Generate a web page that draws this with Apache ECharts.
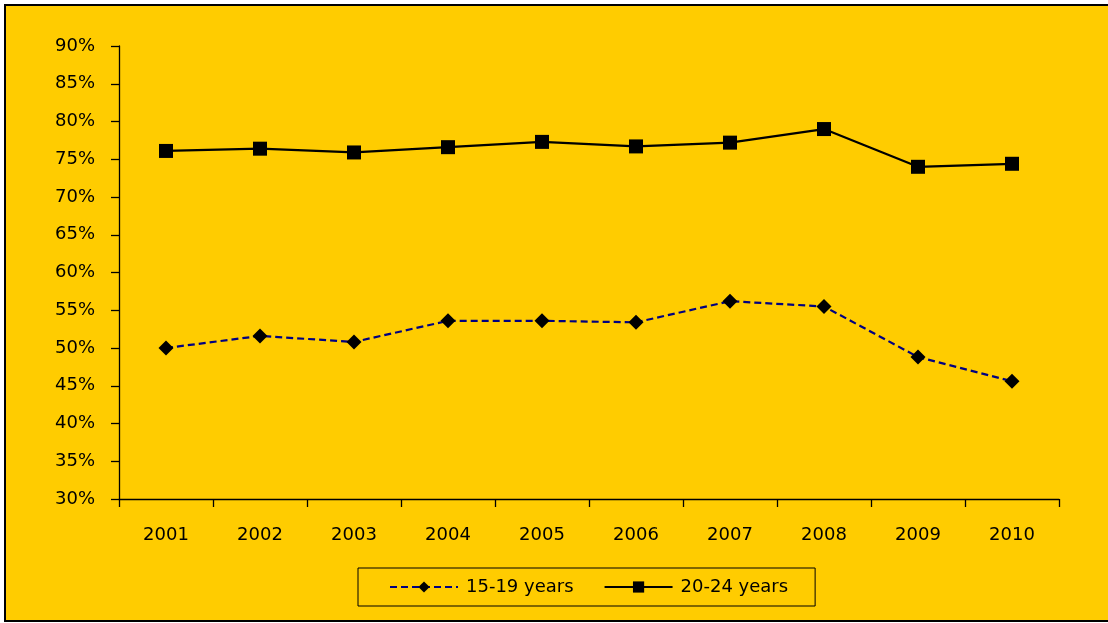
<!DOCTYPE html>
<html>
<head>
<meta charset="utf-8">
<script src="https://cdn.jsdelivr.net/npm/echarts@6/dist/echarts.min.js"></script>
<style>
html, body { margin: 0; padding: 0; background: #fff; overflow: hidden; }
#main { width: 1108px; height: 623px; }
</style>
</head>
<body>
<div id="main"></div>
<script>
// data
var years = ['2001', '2002', '2003', '2004', '2005', '2006', '2007', '2008', '2009', '2010'];
var teens = [50.0, 51.6, 50.8, 53.6, 53.6, 53.4, 56.2, 55.5, 48.8, 45.6];   // 15-19 years
var twenties = [76.1, 76.4, 75.9, 76.6, 77.3, 76.7, 77.2, 79.0, 74.0, 74.4]; // 20-24 years
var seriesNames = ['15-19 years', '20-24 years'];

var myChart = echarts.init(document.getElementById('main'));

var font = 'DejaVu Sans';
var frameLine = { stroke: '#000', lineWidth: 2 };

option = {
	backgroundColor: '#ffffff',
	animation: false,
	textStyle: { fontFamily: font, color: '#000' },
	// yellow panel, framed on top, left and bottom only (it runs off the right edge)
	graphic: [{
		type: 'rect',
		z: -10,
		shape: { x: 5, y: 5, width: 1103, height: 616 },
		style: { fill: '#FFCC00' }
	}, {
		type: 'polyline',
		z: -9,
		shape: { points: [[1108, 5], [5, 5], [5, 621], [1108, 621]] },
		style: frameLine
	}],
	grid: {
		left: 119,
		right: 49,
		top: 46,
		bottom: 124
	},
	legend: {
		left: 358,
		top: 568,
		padding: [10, 27, 10, 31],
		itemWidth: 68,
		itemHeight: 14,
		itemGap: 30,
		borderColor: '#000',
		borderWidth: 1,
		textStyle: { fontFamily: font, fontSize: 18, color: '#000', padding: [0, 0, 0, 3] },
		data: seriesNames
	},
	xAxis: {
		type: 'category',
		data: years,
		boundaryGap: true,
		axisLine: { lineStyle: { color: '#000', width: 1.3 } },
		axisTick: { show: true, length: 8, lineStyle: { color: '#000', width: 1.3 } },
		axisLabel: { fontFamily: font, fontSize: 18, color: '#000', margin: 27 }
	},
	yAxis: {
		type: 'value',
		min: 30,
		max: 90,
		interval: 5,
		axisLine: { show: true, lineStyle: { color: '#000', width: 1.3 } },
		axisTick: { show: true, length: 8, lineStyle: { color: '#000', width: 1.3 } },
		splitLine: { show: false },
		axisLabel: { fontFamily: font, fontSize: 18, color: '#000', margin: 24, formatter: '{value}%' }
	},
	series: [{
		name: seriesNames[0],
		type: 'line',
		data: teens,
		symbol: 'diamond',
		symbolSize: 15,
		itemStyle: { color: '#000' },
		lineStyle: { color: '#000080', width: 2.2, type: [7, 4] }
	}, {
		name: seriesNames[1],
		type: 'line',
		data: twenties,
		symbol: 'rect',
		symbolSize: 14,
		itemStyle: { color: '#000' },
		lineStyle: { color: '#000', width: 2.2 }
	}]
};

myChart.setOption(option);
</script>
</body>
</html>
